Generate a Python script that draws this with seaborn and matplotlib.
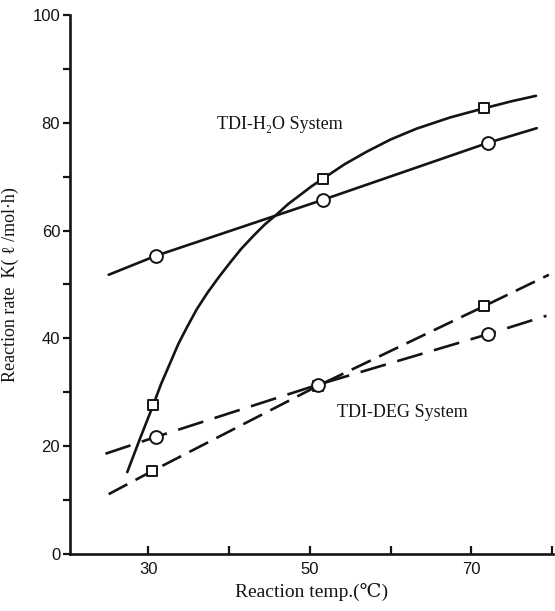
import matplotlib
matplotlib.use("Agg")
import matplotlib.pyplot as plt
import seaborn as sns
import pandas as pd

# ---- data ----
# measured points (temperature, rate)
h2o_sq_x = [30.6, 51.6, 71.6]
h2o_sq_y = [27.6, 69.6, 82.7]
h2o_ci_x = [30.9, 51.6, 72.1]
h2o_ci_y = [55.3, 65.7, 76.3]
deg_sq_x = [30.5, 51.0, 71.6]
deg_sq_y = [15.4, 31.2, 46.0]
deg_ci_x = [30.9, 51.0, 72.1]
deg_ci_y = [21.7, 31.4, 40.8]

# drawn curve / line traces
h2o_sq_curve_x = [27.4, 29.0, 30.6, 31.6, 32.7, 33.7, 34.8, 36.0, 37.3, 38.7, 40.1, 41.5,
                  43.0, 44.4, 45.9, 47.3, 48.8, 50.2, 51.6, 54.3, 57.0, 60.0, 63.2,
                  67.4, 71.6, 75.0, 78.0]
h2o_sq_curve_y = [15.2, 21.5, 27.6, 31.6, 35.4, 38.9, 42.1, 45.4, 48.4, 51.3, 54.0, 56.6,
                  59.0, 61.1, 63.0, 64.9, 66.6, 68.2, 69.6, 72.3, 74.6, 76.9, 78.9,
                  81.0, 82.7, 84.0, 85.0]
h2o_ci_line_x = [25.1, 30.9, 51.6, 72.1, 78.1]
h2o_ci_line_y = [51.8, 55.3, 65.7, 76.3, 79.0]
deg_sq_line_x = [25.1, 30.5, 51.0, 71.6, 79.6]
deg_sq_line_y = [11.1, 15.4, 31.2, 46.0, 51.8]
deg_ci_line_x = [24.7, 30.9, 51.0, 72.1, 79.3]
deg_ci_line_y = [18.6, 21.7, 31.4, 40.8, 44.2]

y_ticks = [0, 20, 40, 60, 80, 100]
x_ticks = [30, 50, 70]
x_tick_labels = ["30", "50", "70"]

sns.set_theme(style="white")
plt.rcParams["font.family"] = ["Liberation Serif", "DejaVu Serif"]

fig = plt.figure(figsize=(5.55, 6.11), dpi=100)
ax = fig.add_axes([0.126, 0.0933, 0.8703, 0.8822])

ink = "#141414"
lw = 1.9

def line(xs, ys, ls):
    df = pd.DataFrame({"x": xs, "y": ys})
    sns.lineplot(data=df, x="x", y="y", ax=ax, color=ink, linewidth=lw,
                 linestyle=ls, sort=False, estimator=None,
                 solid_joinstyle="round", solid_capstyle="round")

line(h2o_sq_curve_x, h2o_sq_curve_y, "-")
line(h2o_ci_line_x, h2o_ci_line_y, "-")
line(deg_sq_line_x, deg_sq_line_y, (0, (8, 3.5)))
line(deg_ci_line_x, deg_ci_line_y, (0, (10, 4.5)))

def pts(xs, ys, marker, s):
    df = pd.DataFrame({"x": xs, "y": ys})
    sns.scatterplot(data=df, x="x", y="y", ax=ax, marker=marker, s=s,
                    facecolor="white", edgecolor=ink, linewidth=1.4, zorder=5)

pts(h2o_sq_x, h2o_sq_y, "s", 55)
pts(h2o_ci_x, h2o_ci_y, "o", 85)
pts(deg_sq_x, deg_sq_y, "s", 55)
pts(deg_ci_x, deg_ci_y, "o", 85)

ax.text(46.3, 79.6, "TDI-H₂O System", fontsize=13, ha="center", va="center", color=ink)
ax.text(61.4, 26.3, "TDI-DEG System", fontsize=13, ha="center", va="center", color=ink)

ax.set_xlim(20.3, 80.1)
ax.set_ylim(0, 100)
ax.set_xticks(x_ticks)
ax.set_xticklabels(x_tick_labels)
ax.set_xticks([40, 60, 80], minor=True)
ax.set_yticks(y_ticks)
ax.set_yticks([10, 30, 50, 70, 90], minor=True)

for lab in ax.get_xticklabels() + ax.get_yticklabels():
    lab.set_family(["Liberation Sans", "DejaVu Sans"])
    lab.set_fontsize(12)
    lab.set_color(ink)

ax.tick_params(axis="x", which="both", direction="in", length=6, width=1.6, color=ink, pad=6)
ax.tick_params(axis="y", which="both", direction="out", length=5, width=1.6, color=ink, pad=2, left=True)
ax.tick_params(axis="x", which="both", bottom=True)

for side in ["top", "right"]:
    ax.spines[side].set_visible(False)
for side in ["left", "bottom"]:
    ax.spines[side].set_color(ink)
    ax.spines[side].set_linewidth(1.9)

ax.set_xlabel("Reaction temp.(℃)", fontsize=14, color=ink, labelpad=4)
ax.set_ylabel("Reaction rate  K( ℓ /mol·h)", fontsize=13, color=ink, labelpad=10)

fig.savefig("out.png", dpi=100, facecolor="white")
